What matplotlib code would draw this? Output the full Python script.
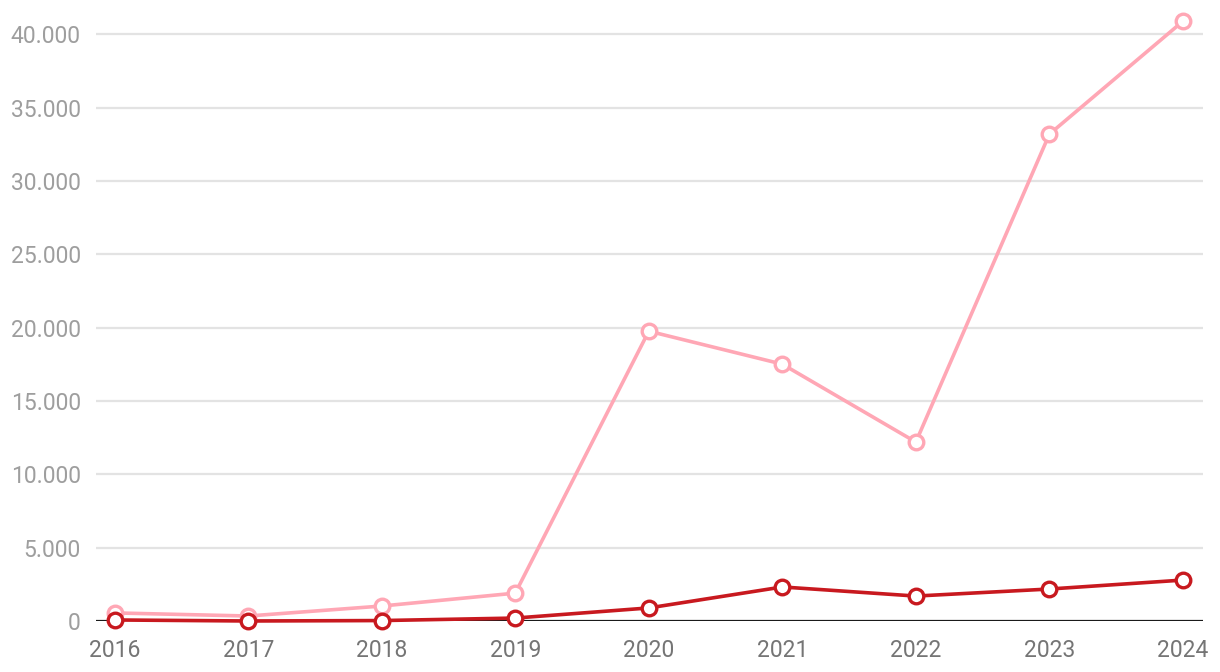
import matplotlib
matplotlib.use("Agg")
import matplotlib.pyplot as plt
from matplotlib.ticker import FuncFormatter

years = [2016, 2017, 2018, 2019, 2020, 2021, 2022, 2023, 2024]
pink_vals = [550, 340, 1020, 1900, 19760, 17510, 12200, 33190, 40890]
red_vals = [70, 0, 30, 200, 890, 2320, 1700, 2180, 2790]
yticks = [0, 5000, 10000, 15000, 20000, 25000, 30000, 35000, 40000]

plt.rcParams["font.family"] = ["Roboto", "DejaVu Sans"]

fig = plt.figure(figsize=(12.2, 6.72), dpi=100)
ax = fig.add_axes([0.0787, 0.0759, 0.9073, 0.9167])

# Gitterlinien
for t in yticks[1:]:
    ax.axhline(t, color="#e3e3e3", lw=1.6, zorder=0)
ax.axhline(0, color="#1a1a1a", lw=1.6, zorder=1)

ax.plot(years, pink_vals, color="#ffa7b5", lw=2.6, marker="o", ms=10.5,
        mfc="white", mec="#ffa7b5", mew=2.4, zorder=3, clip_on=False)
ax.plot(years, red_vals, color="#c8191f", lw=2.6, marker="o", ms=10.5,
        mfc="white", mec="#c8191f", mew=2.4, zorder=4, clip_on=False)

ax.set_xlim(2015.86, 2024.15)
ax.set_ylim(0, 42000)
ax.set_xticks(years)
ax.set_xticklabels([str(y) for y in years])
ax.set_yticks(yticks)
ax.yaxis.set_major_formatter(FuncFormatter(lambda v, p: f"{int(v):,}".replace(",", ".")))

for s in ax.spines.values():
    s.set_visible(False)
ax.tick_params(axis="both", length=0)
ax.tick_params(axis="y", labelsize=16.5, labelcolor="#9e9e9e", pad=11)
ax.tick_params(axis="x", labelsize=16.5, labelcolor="#757575", pad=13)

fig.savefig("out.png", dpi=100)
